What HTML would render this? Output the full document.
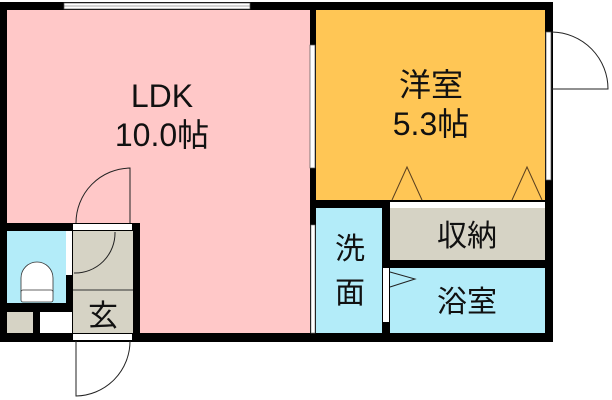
<!DOCTYPE html>
<html><head><meta charset="utf-8"><style>body{margin:0;background:#fff}svg{display:block}text{font-family:"Liberation Sans","Noto Sans CJK JP",sans-serif;fill:#111}</style></head>
<body>
<svg width="612" height="400" viewBox="0 0 612 400" xmlns="http://www.w3.org/2000/svg">
<rect x="0" y="2" width="553" height="340" fill="#000"/>
<rect x="7" y="10" width="303" height="323" fill="#FFC8C8"/>
<rect x="0" y="223" width="140" height="119" fill="#000"/>
<rect x="316" y="10" width="229" height="190" fill="#FFC655"/>
<rect x="316" y="208" width="66" height="125" fill="#B3ECF9"/>
<rect x="390" y="208" width="155" height="52" fill="#D6D3C5"/>
<rect x="390" y="268" width="155" height="65" fill="#B3ECF9"/>
<rect x="7" y="231" width="59" height="72" fill="#B3ECF9"/>
<rect x="73" y="231" width="60" height="102" fill="#D6D3C5"/>
<rect x="7" y="312" width="26" height="21" fill="#D6D3C5"/>
<rect x="40" y="312" width="32" height="21" fill="#fff"/>
<line x1="73" y1="290" x2="133" y2="290" stroke="#333" stroke-width="1"/>
<rect x="64" y="3" width="186" height="6" fill="#fff" stroke="#555" stroke-width="0.7"/>
<line x1="64" y1="6" x2="250" y2="6" stroke="#555" stroke-width="0.6"/>
<rect x="310" y="45" width="5" height="123" fill="#fff" stroke="#555" stroke-width="0.7"/>
<rect x="311" y="225" width="4" height="108" fill="#fff" stroke="#777" stroke-width="0.6"/>
<rect x="546" y="32" width="5" height="148" fill="#fff" stroke="#555" stroke-width="0.7"/>
<rect x="390" y="202" width="155" height="6" fill="#fff"/>
<rect x="383" y="268" width="6" height="54" fill="#fff"/>
<rect x="66" y="231" width="6" height="44" fill="#fff"/>
<rect x="73" y="224" width="59" height="6" fill="#fff"/>
<rect x="73" y="334" width="59" height="6" fill="#fff"/>
<g fill="none" stroke="#222" stroke-width="1">
<path d="M130 223 L130 168 A55 55 0 0 0 76 223"/>
<path d="M115 232 A40 40 0 0 1 74 273"/>
<path d="M76 341 L76 396 A55 55 0 0 0 130 341"/>
<path d="M552 89 L608 89 A57 57 0 0 0 552 32"/>
<path d="M392 200 L407 167 L422 200 M512 200 L527 167 L542 200" stroke="#5a4020"/>
<path d="M390 272 L415 279 L390 287"/>
</g>
<path d="M21 292 L21 278 A16 16 0 0 1 53 278 L53 292 Z" fill="#fff" stroke="#333" stroke-width="0.8"/>
<rect x="21" y="290" width="32" height="12" rx="2" fill="#fff" stroke="#333" stroke-width="0.8"/>
<text x="162" y="107" font-size="32" text-anchor="middle">LDK</text>
<text x="162" y="146" font-size="32" text-anchor="middle">10.0帖</text>
<text x="431" y="96" font-size="32" text-anchor="middle">洋室</text>
<text x="431" y="135" font-size="32" text-anchor="middle">5.3帖</text>
<text x="467" y="246" font-size="30" text-anchor="middle">収納</text>
<text x="467" y="312" font-size="30" text-anchor="middle">浴室</text>
<text x="350" y="259" font-size="30" text-anchor="middle">洗</text>
<text x="350" y="303" font-size="30" text-anchor="middle">面</text>
<text x="103" y="326" font-size="30" text-anchor="middle">玄</text>
</svg>
</body></html>
